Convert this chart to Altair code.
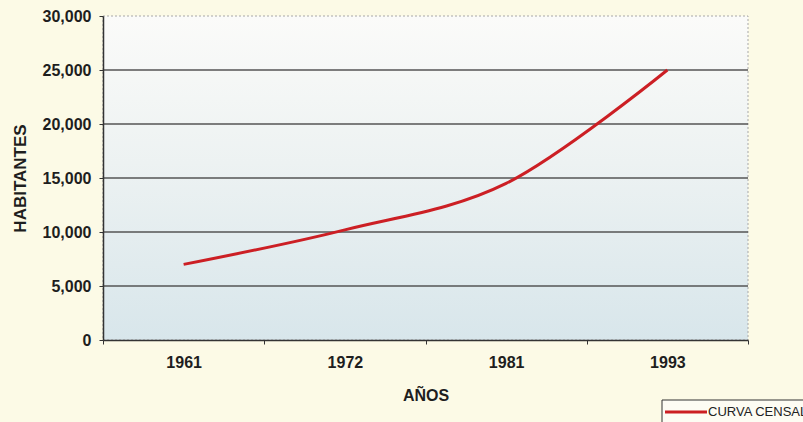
import altair as alt
import pandas as pd

# Census years and population counts
years = ["1961", "1972", "1981", "1993"]
population = [7000, 10200, 14500, 25000]

# Horizontal grid levels inside the plot
grid_levels = [5000, 10000, 15000, 20000, 25000]

FONT = "Liberation Sans"
W, H = 645, 324

df = pd.DataFrame({"year": years, "pop": population})
grid_df = pd.DataFrame({"level": grid_levels})
one = pd.DataFrame({"k": [0]})

y_scale = alt.Scale(domain=[0, 30000])
x_enc = alt.X(
    "year:N",
    sort=years,
    title="AÑOS",
    axis=alt.Axis(
        tickBand="extent",
        labelAngle=0,
        labelFont=FONT,
        labelFontSize=16,
        labelFontWeight="bold",
        labelColor="#1e1e1e",
        labelPadding=10,
        tickSize=4,
        tickColor="#333333",
        domainColor="#333333",
        domainWidth=1.5,
        titleFont=FONT,
        titleFontSize=16,
        titleFontWeight="bold",
        titleColor="#1e1e1e",
        titlePadding=17,
        grid=False,
        zindex=1,
    ),
)
y_enc = alt.Y(
    "pop:Q",
    scale=y_scale,
    title="HABITANTES",
    axis=alt.Axis(
        values=[0, 5000, 10000, 15000, 20000, 25000, 30000],
        format=",d",
        labelFont=FONT,
        labelFontSize=16,
        labelFontWeight="bold",
        labelColor="#1e1e1e",
        labelPadding=8,
        tickSize=4,
        tickColor="#333333",
        domainColor="#333333",
        domainWidth=1.5,
        titleFont=FONT,
        titleFontSize=17,
        titleFontWeight="bold",
        titleColor="#1e1e1e",
        titlePadding=13,
        grid=False,
        zindex=1,
    ),
)

# Plot-area fill: pale at the top, light blue-grey towards the bottom
panel = alt.Chart(one).mark_rect(
    color=alt.LinearGradient(
        gradient="linear",
        stops=[
            alt.GradientStop(color="#fbfbf9", offset=0),
            alt.GradientStop(color="#edf2f2", offset=0.45),
            alt.GradientStop(color="#d8e6eb", offset=1),
        ],
        x1=0, x2=0, y1=0, y2=1,
    ),
    stroke="#a8a8a8",
    strokeDash=[2, 2],
    strokeWidth=1,
).encode(
    x=alt.value(0), x2=alt.value(W), y=alt.value(0), y2=alt.value(H)
)

grid = alt.Chart(grid_df).mark_rule(color="#555555", strokeWidth=1.3).encode(
    y=alt.Y("level:Q", scale=y_scale)
)

line = alt.Chart(df).mark_line(
    color="#cc1f24", strokeWidth=3, interpolate="cardinal"
).encode(x=x_enc, y=y_enc)

# Legend box at the lower right
legend_box = alt.Chart(one).mark_rect(
    fill="#fdfcf3", stroke="#333333", strokeWidth=1
).encode(x=alt.value(559), x2=alt.value(760), y=alt.value(384), y2=alt.value(420))

legend_line = alt.Chart(one).mark_rule(color="#cc1f24", strokeWidth=3).encode(
    x=alt.value(562), x2=alt.value(604), y=alt.value(396)
)

legend_text = alt.Chart(one).mark_text(
    text="CURVA CENSAL",
    font=FONT,
    fontSize=13,
    color="#222222",
    align="left",
    baseline="middle",
).encode(x=alt.value(605), y=alt.value(396))

chart = (
    alt.layer(panel, grid, line, legend_box, legend_line, legend_text)
    .properties(
        width=W,
        height=H,
        background="#fcfae6",
        padding={"left": 103, "top": 16, "right": 55, "bottom": 82},
        autosize=alt.AutoSizeParams(type="none"),
    )
    .configure_view(stroke=None)
)

chart.save("out.html", embed_options={"renderer": "svg", "actions": False})
